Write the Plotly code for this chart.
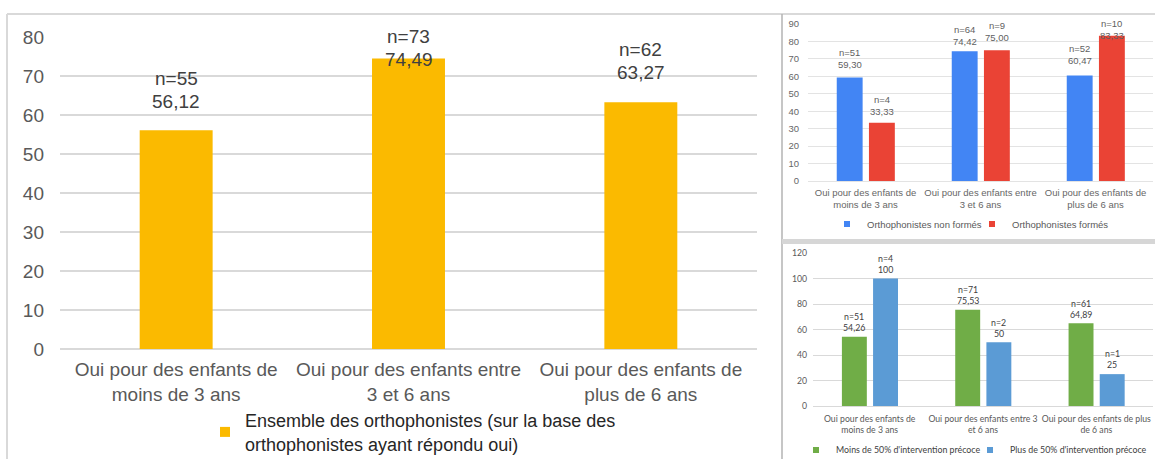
import plotly.graph_objects as go

W, H = 1155, 459

# left panel: all speech therapists who answered "yes"
age_groups = ["Oui pour des enfants de<br>moins de 3 ans",
              "Oui pour des enfants entre<br>3 et 6 ans",
              "Oui pour des enfants de<br>plus de 6 ans"]
all_pct = [56.12, 74.49, 63.27]
all_n = [55, 73, 62]

# top right: trained vs not trained
untrained_pct = [59.30, 74.42, 60.47]
untrained_n = [51, 64, 52]
trained_pct = [33.33, 75.00, 83.33]
trained_n = [4, 9, 10]

# bottom right: share of early intervention in caseload
age_groups_br = ["Oui pour des enfants de<br>moins de 3 ans",
                 "Oui pour des enfants entre 3<br>et 6 ans",
                 "Oui pour des enfants de plus<br>de 6 ans"]
low_early_pct = [54.26, 75.53, 64.89]
low_early_n = [51, 71, 61]
high_early_pct = [100, 50, 25]
high_early_n = [4, 2, 1]


def px(x):
    return x / W


def py(y):
    return 1 - y / H


def fr2(v):
    return f"{v:.2f}".replace(".", ",")


def frg(v):
    return f"{v:g}".replace(".", ",")


fig = go.Figure()
annotations = []


def add_bars(vals, ns, color, width, offset, xa, ya, fmt, shifts, spacing, font):
    pos = list(range(len(vals)))
    fig.add_trace(go.Bar(x=pos, y=vals, width=width, offset=offset,
                         marker=dict(color=color, line=dict(width=0)),
                         xaxis=xa, yaxis=ya, showlegend=False, hoverinfo="y"))
    for i, (v, n) in enumerate(zip(vals, ns)):
        for txt, dy in ((f"n={n}", spacing / 2), (fmt(v), -spacing / 2)):
            annotations.append(dict(
                x=i + offset + width / 2, y=v, xref=xa, yref=ya,
                text=txt, showarrow=False, yanchor="middle",
                yshift=shifts[i] + dy, font=font))


def add_key(name, color, size, xa, ya, legend):
    fig.add_trace(go.Scatter(x=[None], y=[None], mode="markers", name=name,
                             marker=dict(symbol="square", size=size, color=color),
                             xaxis=xa, yaxis=ya, legend=legend))


# ---- left chart
lab_left = dict(family="Liberation Sans", size=19, color="#404040")
add_bars(all_pct, all_n, "#FBBA00", 0.314, -0.157, "x", "y", fr2, [40, 10, 41], 23, lab_left)
add_key("Ensemble des orthophonistes (sur la base des<br>orthophonistes ayant répondu oui)",
        "#FBBA00", 10, "x", "y", "legend")

# ---- top right chart
lab_tr = dict(family="Liberation Sans", size=9.5, color="#5f5f5f")
add_bars(untrained_pct, untrained_n, "#4285F4", 0.225, -0.25, "x2", "y2", fr2,
         [19, 15.5, 21], 12, lab_tr)
add_bars(trained_pct, trained_n, "#EA4335", 0.225, 0.03, "x2", "y2", fr2,
         [17.5, 19, 6], 12, lab_tr)
add_key("Orthophonistes non formés", "#4285F4", 6, "x2", "y2", "legend2")
add_key("Orthophonistes formés", "#EA4335", 6, "x2", "y2", "legend3")

# ---- bottom right chart
lab_br = dict(family="Lato", size=8.8, color="#404040")
add_bars(low_early_pct, low_early_n, "#70AD47", 0.22, -0.245, "x3", "y3", frg,
         [14.5, 14.5, 14], 11, lab_br)
add_bars(high_early_pct, high_early_n, "#5B9BD5", 0.22, 0.03, "x3", "y3", frg,
         [14.5, 14.5, 15], 11, lab_br)
add_key("Moins de 50% d'intervention précoce", "#70AD47", 6, "x3", "y3", "legend4")
add_key("Plus de 50% d'intervention précoce", "#5B9BD5", 6, "x3", "y3", "legend5")


def xaxis(dom, labels, font, anchor, standoff):
    return dict(domain=dom, range=[-0.5, 2.5], tickvals=list(range(len(labels))),
                ticktext=labels, showgrid=False, zeroline=False, showline=False,
                ticks="", tickfont=font, tickangle=0, automargin=False,
                anchor=anchor, ticklabelstandoff=standoff, fixedrange=True)


def yaxis(dom, rng, dtick, font, grid, gw, anchor, standoff):
    return dict(domain=dom, range=rng, dtick=dtick, showgrid=True, gridcolor=grid,
                gridwidth=gw, zeroline=True, zerolinecolor=grid, zerolinewidth=gw,
                showline=False, ticks="", tickfont=font, anchor=anchor,
                automargin=False, ticklabelstandoff=standoff, fixedrange=True)


tick_left = dict(family="Liberation Sans", size=19, color="#595959")
tick_tr = dict(family="Liberation Sans", size=9.5, color="#666666")
tick_br = dict(family="Lato", size=8.7, color="#595959")


def key_legend(x, y, font, **kw):
    return dict(x=px(x), y=py(y), xanchor="left", yanchor="middle", font=font,
                bgcolor="rgba(0,0,0,0)", borderwidth=0, **kw)


leg_tr = dict(family="Liberation Sans", size=9.5, color="#595959")
leg_br = dict(family="Lato", size=8.8, color="#404040")

fig.update_layout(
    width=W, height=H, margin=dict(l=0, r=0, t=0, b=0, autoexpand=False),
    paper_bgcolor="white", plot_bgcolor="white", barmode="overlay",
    xaxis=xaxis([px(60), px(757)], age_groups, tick_left, "y", 7),
    yaxis=yaxis([py(349), py(37)], [0, 80], 10, tick_left, "#d9d9d9", 2, "x", 15),
    xaxis2=xaxis([px(808), px(1153)], age_groups, tick_tr, "y2", 4),
    yaxis2=yaxis([py(181), py(24)], [0, 90], 10, tick_tr, "#e3e3e3", 1, "x2", 8),
    xaxis3=xaxis([px(813), px(1153)], age_groups_br, tick_br, "y3", 6),
    yaxis3=yaxis([py(406), py(253)], [0, 120], 20, tick_br, "#d9d9d9", 1, "x3", 5),
    legend=key_legend(205, 432, dict(family="Liberation Sans", size=18, color="#262626")),
    legend2=key_legend(827, 224, leg_tr),
    legend3=key_legend(972, 224, leg_tr),
    legend4=key_legend(796, 450, leg_br),
    legend5=key_legend(970, 450, leg_br),
    annotations=annotations,
    showlegend=True,
)

# panel frames
frame = dict(type="line", xref="paper", yref="paper")
fig.add_shape(frame | dict(x0=px(7), x1=px(1155), y0=py(14), y1=py(14),
                           line=dict(color="#d9d9d9", width=2)))
fig.add_shape(frame | dict(x0=px(7), x1=px(7), y0=py(14), y1=0,
                           line=dict(color="#d9d9d9", width=2)))
fig.add_shape(frame | dict(x0=px(782), x1=px(782), y0=py(14), y1=0,
                           line=dict(color="#b3b3b3", width=1.5)))
fig.add_shape(dict(type="rect", xref="paper", yref="paper", x0=px(782), x1=1,
                   y0=py(244), y1=py(239), fillcolor="#d6d6d6", line=dict(width=0)))

# the page body has a default 8px margin; drop it so the figure fills the window
fig.write_html("out.html", config={"displayModeBar": False},
               post_script="document.body.style.margin = '0';")
